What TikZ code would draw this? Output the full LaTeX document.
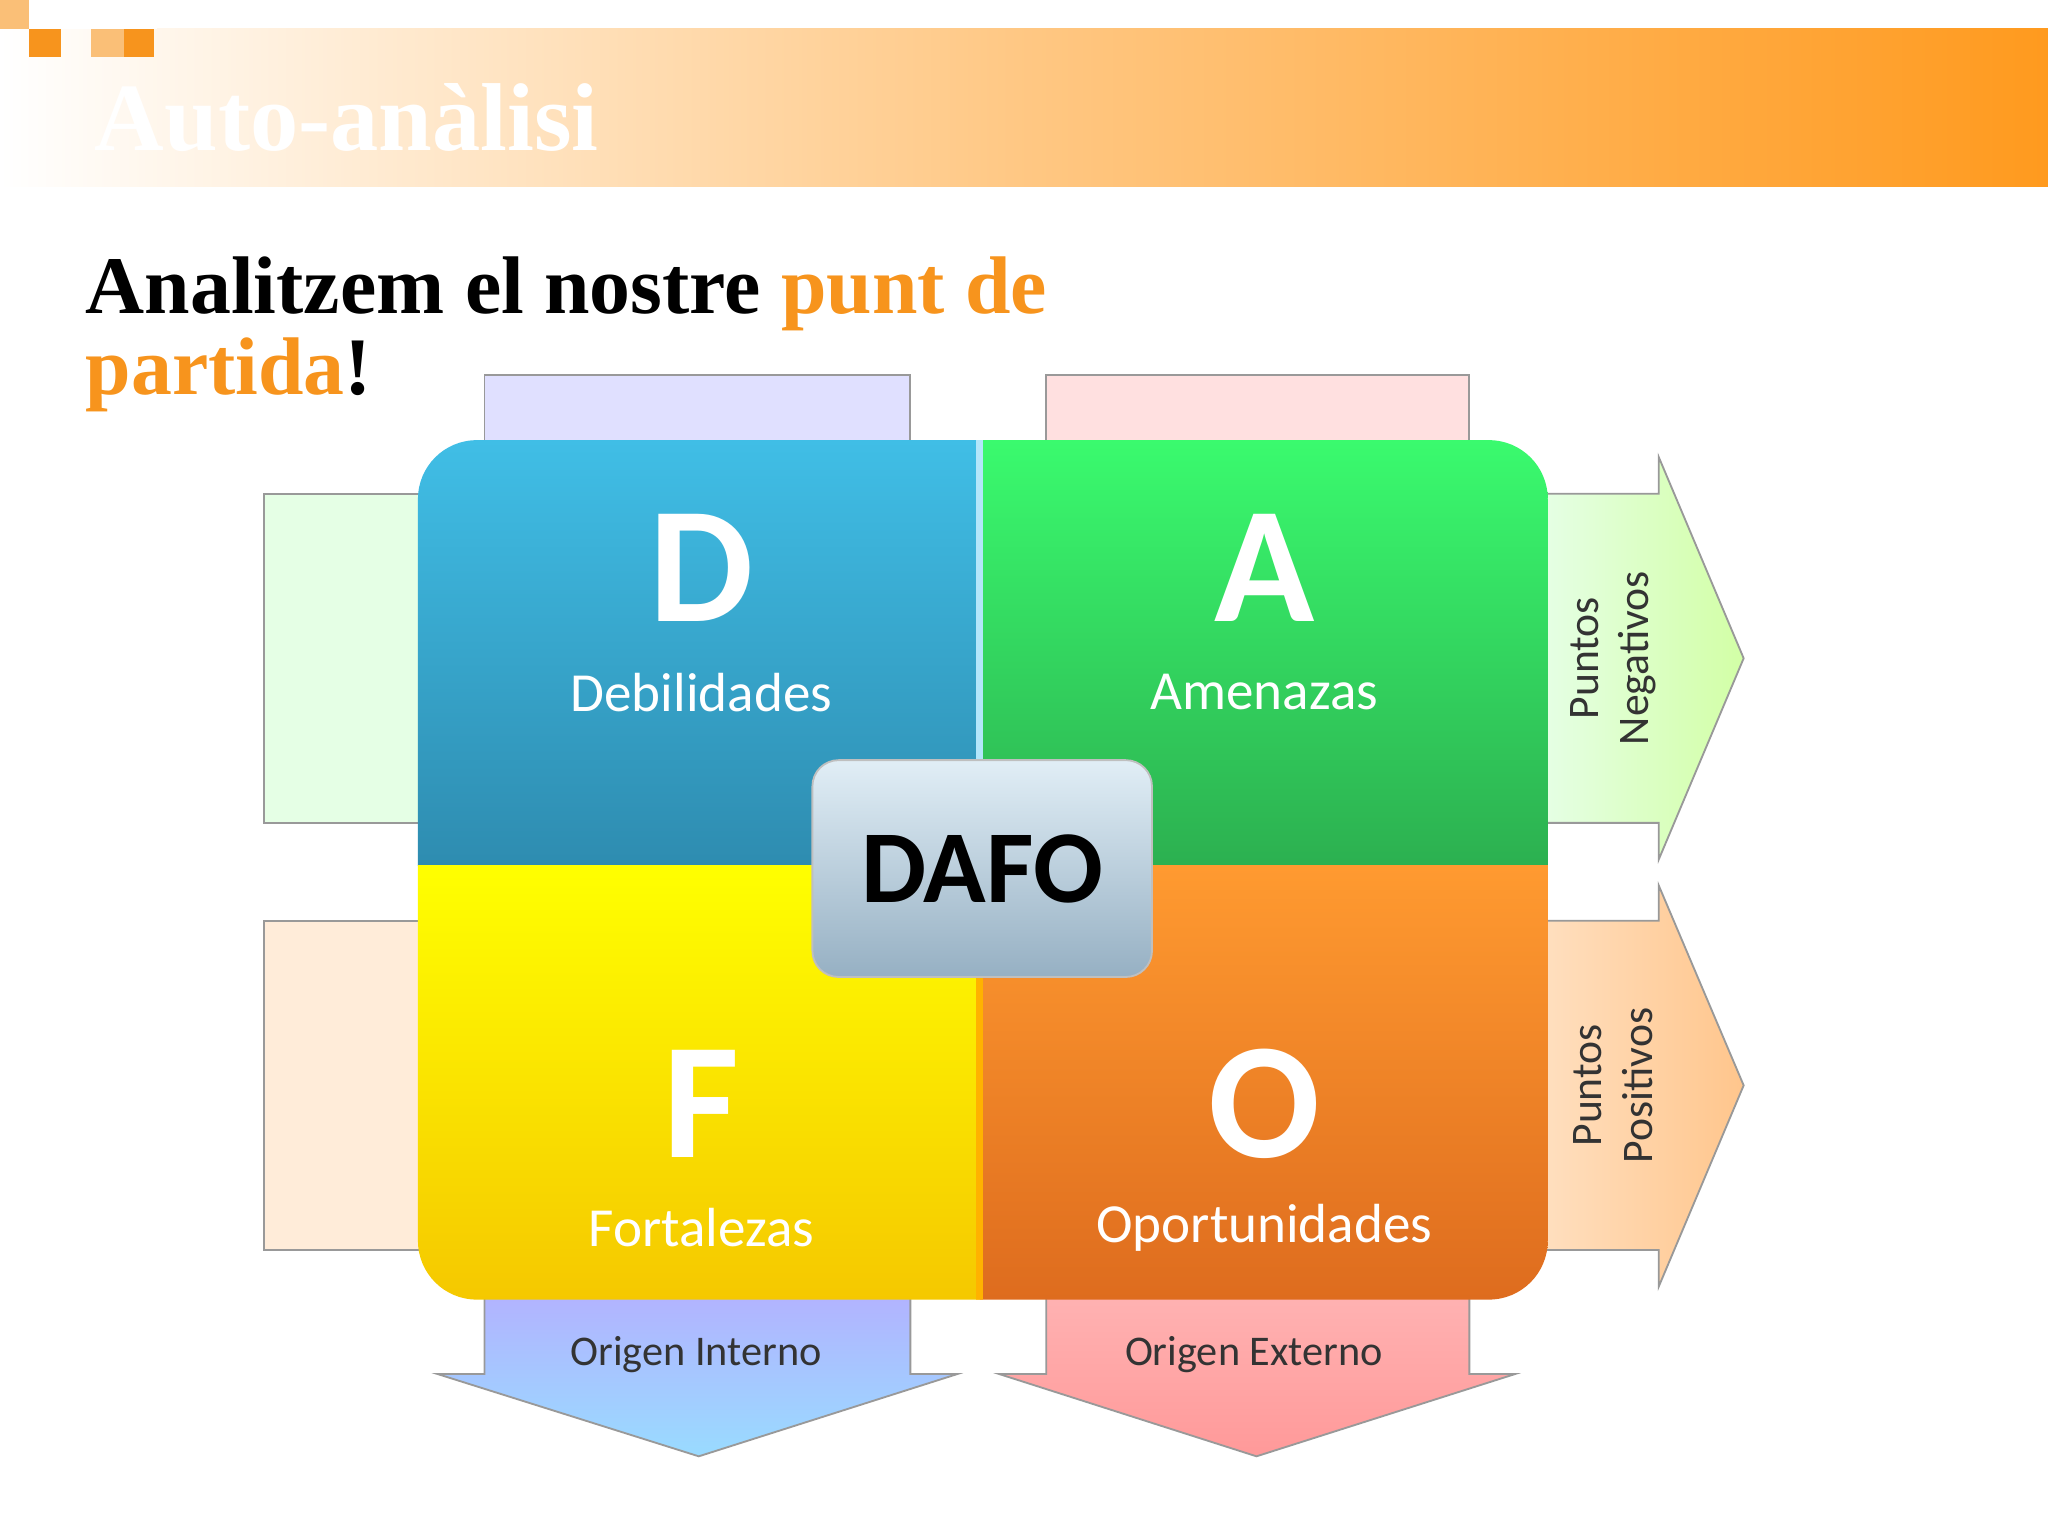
\documentclass[tikz,border=0pt]{standalone}
\usepackage{fontspec}
\setmainfont{Liberation Serif}
\newfontfamily\calfont{Carlito}
\usetikzlibrary{shadings}
\definecolor{orng}{HTML}{F7941D}
\definecolor{hdr}{HTML}{FF9A1E}
\tikzset{
 lbl/.style={font=\calfont\fontsize{12pt}{14pt}\selectfont,text=white},
 big/.style={font=\calfont\bfseries\fontsize{36pt}{38pt}\selectfont,text=white},
 side/.style={font=\calfont\fontsize{9.5pt}{11pt}\selectfont,align=center,rotate=90,text=black!80},
 bot/.style={font=\calfont\fontsize{9.2pt}{11pt}\selectfont,text=black!80},
 tab/.style={draw=black!40,line width=0.4pt}
}
\begin{document}
\begin{tikzpicture}[x=0.01cm,y=-0.01cm]
\useasboundingbox (0,0) rectangle (1568,1176);
\fill[white] (0,0) rectangle (1568,1176);
% header
\shade[left color=white,right color=hdr,middle color=hdr!55] (0,22) rectangle (1568,143);
\fill[white] (0,0) rectangle (120,22);
\fill[orng!60] (0,0) rectangle (22,22);
\fill[orng] (22,22) rectangle (47,44);
\fill[orng!60] (70,22) rectangle (95,44);
\fill[orng] (95,22) rectangle (118,44);
\node[anchor=base west,inner sep=0,text=white,font=\bfseries\fontsize{21pt}{24pt}\selectfont] (title) at (72,115) {Auto-anàlisi};
% heading
\node[anchor=base west,inner sep=0,font=\bfseries\fontsize{17.8pt}{22pt}\selectfont] (h1) at (65,240) {Analitzem el nostre \textcolor{orng}{punt de}};
\node[anchor=base west,inner sep=0,font=\bfseries\fontsize{17.8pt}{22pt}\selectfont] (h2) at (65,302) {\textcolor{orng}{partida}!};
% tabs
\fill[blue!12,tab] (371,287) rectangle (697,340);
\fill[red!12,tab] (801,287) rectangle (1125,340);
\fill[green!10,tab] (202,378) rectangle (325,630);
\fill[orange!15,tab] (202,705) rectangle (325,957);
% bottom arrows
\path[tab,top color=blue!30,bottom color=blue!35!cyan!40] (371,990) -- (697,990) -- (697,1052) -- (733,1052) -- (535,1115) -- (335,1052) -- (371,1052) -- cycle;
\path[tab,top color=red!30,bottom color=red!40] (801,990) -- (1125,990) -- (1125,1052) -- (1160,1052) -- (962,1115) -- (765,1052) -- (801,1052) -- cycle;
% right arrows
\path[tab,left color=green!10,right color=green!50!yellow!35] (1180,378) -- (1270,378) -- (1270,350) -- (1335,504) -- (1270,658) -- (1270,630) -- (1180,630) -- cycle;
\path[tab,left color=orange!25,right color=orange!45] (1180,705) -- (1270,705) -- (1270,678) -- (1335,831) -- (1270,985) -- (1270,957) -- (1180,957) -- cycle;
% main square
\begin{scope}
\clip[rounded corners=0.45cm] (320,337) rectangle (1185,995);
\shade[top color={rgb,255:red,64;green,190;blue,230},bottom color={rgb,255:red,46;green,140;blue,176}] (320,337) rectangle (750,663);
\shade[top color={rgb,255:red,58;green,250;blue,110},bottom color={rgb,255:red,44;green,176;blue,80}] (750,337) rectangle (1185,663);
\shade[top color={rgb,255:red,255;green,255;blue,0},bottom color={rgb,255:red,245;green,200;blue,0}] (320,663) rectangle (750,995);
\shade[top color={rgb,255:red,255;green,154;blue,48},bottom color={rgb,255:red,222;green,108;blue,30}] (750,663) rectangle (1185,995);
\draw[white!70!cyan,line width=1.5pt] (750,337) -- (750,663);
\draw[orange!60!yellow,line width=1.5pt] (750,663) -- (750,995);
\end{scope}
\node[big] (D) at (537,435) {D};
\node[lbl] (Dl) at (537,530) {Debilidades};
\node[big] (A) at (968,435) {A};
\node[lbl] (Al) at (968,530) {Amenazas};
\node[big] (F) at (537,845) {F};
\node[lbl] (Fl) at (537,940) {Fortalezas};
\node[big] (O) at (968,845) {O};
\node[lbl] (Ol) at (968,940) {Oportunidades};
% DAFO
\shade[rounded corners=0.2cm,draw=black!25,top color={rgb,255:red,225;green,238;blue,246},bottom color={rgb,255:red,150;green,176;blue,195}] (622,582) rectangle (882,748);
\node[font=\calfont\bfseries\fontsize{22.5pt}{25pt}\selectfont] (dafo) at (752,665) {DAFO};
% side labels
\node[side] (neg) at (1235,504) {Puntos\\Negativos};
\node[side] (pos) at (1235,831) {Puntos\\Positivos};
\node[bot] (oi) at (533,1037) {Origen Interno};
\node[bot] (oe) at (960,1037) {Origen Externo};
\end{tikzpicture}
\end{document}
